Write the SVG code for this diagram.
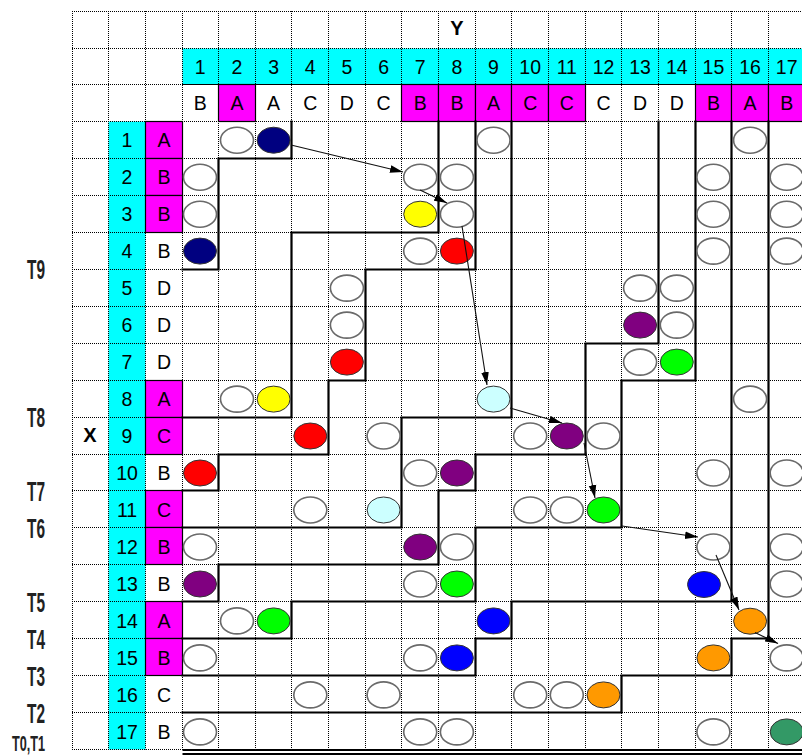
<svg xmlns="http://www.w3.org/2000/svg" width="802" height="756" viewBox="0 0 802 756">
<defs>
<style>
.g{stroke:#000;stroke-width:1;stroke-dasharray:1 1;fill:none}
.b{stroke:#000;stroke-width:2.2;fill:none;stroke-linejoin:miter;stroke-linecap:square}
.m{fill:#FF00FF;stroke:#000;stroke-width:1.2}
.cy{fill:#00FFFF}
.t{font-family:"Liberation Sans",Arial,sans-serif;font-size:19.5px;text-anchor:middle;fill:#000}
.lb{font-family:"Liberation Sans",Arial,sans-serif;font-weight:bold;font-size:20px;text-anchor:middle;fill:#000}
.tl{font-family:"Liberation Sans",Arial,sans-serif;font-weight:bold;font-size:28px;fill:#222}
.w{fill:#fff;stroke:#6a6a6a;stroke-width:1.6}
.c{stroke:#333;stroke-width:1}
.a{stroke:#111;stroke-width:1.1;fill:none;marker-end:url(#ah)}
</style>
<marker id="ah" markerUnits="userSpaceOnUse" markerWidth="14" markerHeight="9" refX="13" refY="4.5" orient="auto">
<path d="M0,0.7 L13,4.5 L0,8.3 z" fill="#000"/>
</marker>
</defs>
<rect width="802" height="756" fill="#fff"/>
<g id="fills">
<rect class="cy" x="182.5" y="48.5" width="620" height="36"/>
<rect class="cy" x="108.5" y="121.5" width="37" height="628"/>
</g>
<g id="grid">
<path class="g" d="M72.5,11V749.5M108.5,11V749.5M145.5,11V749.5M182.5,11V749.5M218.5,11V749.5M255.5,11V749.5M291.5,11V749.5M328.5,11V749.5M365.5,11V749.5M401.5,11V749.5M438.5,11V749.5M475.5,11V749.5M511.5,11V749.5M548.5,11V749.5M585.5,11V749.5M621.5,11V749.5M658.5,11V749.5M695.5,11V749.5M731.5,11V749.5M768.5,11V749.5"/>
<path class="g" d="M72,11.5H802M72,48.5H802M72,84.5H802M72,121.5H802M72,158.5H802M72,195.5H802M72,232.5H802M72,269.5H802M72,306.5H802M72,343.5H802M72,380.5H802M72,417.5H802M72,454.5H802M72,490.5H802M72,527.5H802M72,564.5H802M72,601.5H802M72,638.5H802M72,675.5H802M72,712.5H802M72,749.5H802"/>
</g>
<g id="magenta-cells">
<rect class="m" x="218.5" y="84.5" width="37" height="37"/>
<rect class="m" x="401.5" y="84.5" width="37" height="37"/>
<rect class="m" x="438.5" y="84.5" width="37" height="37"/>
<rect class="m" x="475.5" y="84.5" width="36" height="37"/>
<rect class="m" x="511.5" y="84.5" width="37" height="37"/>
<rect class="m" x="548.5" y="84.5" width="37" height="37"/>
<rect class="m" x="695.5" y="84.5" width="36" height="37"/>
<rect class="m" x="731.5" y="84.5" width="37" height="37"/>
<rect class="m" x="768.5" y="84.5" width="37" height="37"/>
<rect class="m" x="145.5" y="121.5" width="37" height="37"/>
<rect class="m" x="145.5" y="158.5" width="37" height="37"/>
<rect class="m" x="145.5" y="195.5" width="37" height="37"/>
<rect class="m" x="145.5" y="380.5" width="37" height="37"/>
<rect class="m" x="145.5" y="417.5" width="37" height="37"/>
<rect class="m" x="145.5" y="490.5" width="37" height="37"/>
<rect class="m" x="145.5" y="527.5" width="37" height="37"/>
<rect class="m" x="145.5" y="601.5" width="37" height="37"/>
<rect class="m" x="145.5" y="638.5" width="37" height="37"/>
<path d="M182.5,84.5H802" stroke="#000" stroke-width="1.2"/>
</g>
<g id="boundaries">
<path class="b" d="M291.5,121.5V158.5H218.5V269.5H182.5"/>
<path class="b" d="M438.5,121.5V232.5H291.5V417.5H182.5"/>
<path class="b" d="M475.5,121.5V269.5H365.5V380.5H328.5V454.5H218.5V490.5H182.5"/>
<path class="b" d="M511.5,121.5V417.5H401.5V527.5H182.5"/>
<path class="b" d="M658.5,121.5V343.5H585.5V454.5H475.5V490.5H438.5V564.5H218.5V601.5H182.5"/>
<path class="b" d="M695.5,121.5V380.5H621.5V527.5H475.5V601.5H291.5V638.5H182.5"/>
<path class="b" d="M731.5,121.5V601.5H511.5V638.5H475.5V675.5H182.5"/>
<path class="b" d="M768.5,121.5V638.5H731.5V675.5H621.5V712.5H182.5"/>
<path d="M182.5,750H802M182.5,754H802" stroke="#000" stroke-width="2"/>
</g>
<g id="nodes">
<g id="n1-2"><ellipse class="w" cx="237" cy="140.2" rx="16.5" ry="13"/></g>
<g id="n1-3"><ellipse class="c" fill="#000080" cx="273.6" cy="140.2" rx="16.5" ry="13"/></g>
<g id="n1-9"><ellipse class="w" cx="493.5" cy="140.2" rx="16.5" ry="13"/></g>
<g id="n1-16"><ellipse class="w" cx="750.1" cy="140.2" rx="16.5" ry="13"/></g>
<g id="n2-1"><ellipse class="w" cx="200" cy="177.2" rx="16.5" ry="13"/></g>
<g id="n2-7"><ellipse class="w" cx="420.2" cy="177.2" rx="16.5" ry="13"/></g>
<g id="n2-8"><ellipse class="w" cx="456.9" cy="177.2" rx="16.5" ry="13"/></g>
<g id="n2-15"><ellipse class="w" cx="713.4" cy="177.2" rx="16.5" ry="13"/></g>
<g id="n2-17"><ellipse class="w" cx="786.7" cy="177.2" rx="16.5" ry="13"/></g>
<g id="n3-1"><ellipse class="w" cx="200" cy="214.2" rx="16.5" ry="13"/></g>
<g id="n3-7"><ellipse class="c" fill="#FFFF00" cx="420.2" cy="214.2" rx="16.5" ry="13"/></g>
<g id="n3-8"><ellipse class="w" cx="456.9" cy="214.2" rx="16.5" ry="13"/></g>
<g id="n3-15"><ellipse class="w" cx="713.4" cy="214.2" rx="16.5" ry="13"/></g>
<g id="n3-17"><ellipse class="w" cx="786.7" cy="214.2" rx="16.5" ry="13"/></g>
<g id="n4-1"><ellipse class="c" fill="#000080" cx="200" cy="251.1" rx="16.5" ry="13"/></g>
<g id="n4-7"><ellipse class="w" cx="420.2" cy="251.1" rx="16.5" ry="13"/></g>
<g id="n4-8"><ellipse class="c" fill="#FF0000" cx="456.9" cy="251.1" rx="16.5" ry="13"/></g>
<g id="n4-15"><ellipse class="w" cx="713.4" cy="251.1" rx="16.5" ry="13"/></g>
<g id="n4-17"><ellipse class="w" cx="786.7" cy="251.1" rx="16.5" ry="13"/></g>
<g id="n5-5"><ellipse class="w" cx="346.9" cy="288.1" rx="16.5" ry="13"/></g>
<g id="n5-13"><ellipse class="w" cx="640.1" cy="288.1" rx="16.5" ry="13"/></g>
<g id="n5-14"><ellipse class="w" cx="676.8" cy="288.1" rx="16.5" ry="13"/></g>
<g id="n6-5"><ellipse class="w" cx="346.9" cy="325.1" rx="16.5" ry="13"/></g>
<g id="n6-13"><ellipse class="c" fill="#800080" cx="640.1" cy="325.1" rx="16.5" ry="13"/></g>
<g id="n6-14"><ellipse class="w" cx="676.8" cy="325.1" rx="16.5" ry="13"/></g>
<g id="n7-5"><ellipse class="c" fill="#FF0000" cx="346.9" cy="362.1" rx="16.5" ry="13"/></g>
<g id="n7-13"><ellipse class="w" cx="640.1" cy="362.1" rx="16.5" ry="13"/></g>
<g id="n7-14"><ellipse class="c" fill="#00FF00" cx="676.8" cy="362.1" rx="16.5" ry="13"/></g>
<g id="n8-2"><ellipse class="w" cx="237" cy="399.1" rx="16.5" ry="13"/></g>
<g id="n8-3"><ellipse class="c" fill="#FFFF00" cx="273.6" cy="399.1" rx="16.5" ry="13"/></g>
<g id="n8-9"><ellipse class="c" fill="#CCFFFF" stroke="#555" cx="493.5" cy="399.1" rx="16.5" ry="13"/></g>
<g id="n8-16"><ellipse class="w" cx="750.1" cy="399.1" rx="16.5" ry="13"/></g>
<g id="n9-4"><ellipse class="c" fill="#FF0000" cx="310.3" cy="436" rx="16.5" ry="13"/></g>
<g id="n9-6"><ellipse class="w" cx="383.6" cy="436" rx="16.5" ry="13"/></g>
<g id="n9-10"><ellipse class="w" cx="530.2" cy="436" rx="16.5" ry="13"/></g>
<g id="n9-11"><ellipse class="c" fill="#800080" cx="566.8" cy="436" rx="16.5" ry="13"/></g>
<g id="n9-12"><ellipse class="w" cx="603.5" cy="436" rx="16.5" ry="13"/></g>
<g id="n10-1"><ellipse class="c" fill="#FF0000" cx="200" cy="473" rx="16.5" ry="13"/></g>
<g id="n10-7"><ellipse class="w" cx="420.2" cy="473" rx="16.5" ry="13"/></g>
<g id="n10-8"><ellipse class="c" fill="#800080" cx="456.9" cy="473" rx="16.5" ry="13"/></g>
<g id="n10-15"><ellipse class="w" cx="713.4" cy="473" rx="16.5" ry="13"/></g>
<g id="n10-17"><ellipse class="w" cx="786.7" cy="473" rx="16.5" ry="13"/></g>
<g id="n11-4"><ellipse class="w" cx="310.3" cy="510" rx="16.5" ry="13"/></g>
<g id="n11-6"><ellipse class="c" fill="#CCFFFF" stroke="#555" cx="383.6" cy="510" rx="16.5" ry="13"/></g>
<g id="n11-10"><ellipse class="w" cx="530.2" cy="510" rx="16.5" ry="13"/></g>
<g id="n11-11"><ellipse class="w" cx="566.8" cy="510" rx="16.5" ry="13"/></g>
<g id="n11-12"><ellipse class="c" fill="#00FF00" cx="603.5" cy="510" rx="16.5" ry="13"/></g>
<g id="n12-1"><ellipse class="w" cx="200" cy="547" rx="16.5" ry="13"/></g>
<g id="n12-7"><ellipse class="c" fill="#800080" cx="420.2" cy="547" rx="16.5" ry="13"/></g>
<g id="n12-8"><ellipse class="w" cx="456.9" cy="547" rx="16.5" ry="13"/></g>
<g id="n12-15"><ellipse class="w" cx="713.4" cy="547" rx="16.5" ry="13"/></g>
<g id="n12-17"><ellipse class="w" cx="786.7" cy="547" rx="16.5" ry="13"/></g>
<g id="n13-1"><ellipse class="c" fill="#800080" cx="200" cy="584" rx="16.5" ry="13"/></g>
<g id="n13-7"><ellipse class="w" cx="420.2" cy="584" rx="16.5" ry="13"/></g>
<g id="n13-8"><ellipse class="c" fill="#00FF00" cx="456.9" cy="584" rx="16.5" ry="13"/></g>
<g id="n13-15"><ellipse class="c" fill="#0000FF" cx="704" cy="584.5" rx="16.5" ry="13"/></g>
<g id="n13-17"><ellipse class="w" cx="786.7" cy="584" rx="16.5" ry="13"/></g>
<g id="n14-2"><ellipse class="w" cx="237" cy="620.9" rx="16.5" ry="13"/></g>
<g id="n14-3"><ellipse class="c" fill="#00FF00" cx="273.6" cy="620.9" rx="16.5" ry="13"/></g>
<g id="n14-9"><ellipse class="c" fill="#0000FF" cx="493.5" cy="620.9" rx="16.5" ry="13"/></g>
<g id="n14-16"><ellipse class="c" fill="#FF9900" cx="750.1" cy="621.2" rx="16.5" ry="13"/></g>
<g id="n15-1"><ellipse class="w" cx="200" cy="657.9" rx="16.5" ry="13"/></g>
<g id="n15-7"><ellipse class="w" cx="420.2" cy="657.9" rx="16.5" ry="13"/></g>
<g id="n15-8"><ellipse class="c" fill="#0000FF" cx="456.9" cy="657.9" rx="16.5" ry="13"/></g>
<g id="n15-15"><ellipse class="c" fill="#FF9900" cx="713.4" cy="657.9" rx="16.5" ry="13"/></g>
<g id="n15-17"><ellipse class="w" cx="786.7" cy="657.9" rx="16.5" ry="13"/></g>
<g id="n16-4"><ellipse class="w" cx="310.3" cy="694.9" rx="16.5" ry="13"/></g>
<g id="n16-6"><ellipse class="w" cx="383.6" cy="694.9" rx="16.5" ry="13"/></g>
<g id="n16-10"><ellipse class="w" cx="530.2" cy="694.9" rx="16.5" ry="13"/></g>
<g id="n16-11"><ellipse class="w" cx="566.8" cy="694.9" rx="16.5" ry="13"/></g>
<g id="n16-12"><ellipse class="c" fill="#FF9900" cx="603.5" cy="694.9" rx="16.5" ry="13"/></g>
<g id="n17-1"><ellipse class="w" cx="200" cy="731.9" rx="16.5" ry="13"/></g>
<g id="n17-7"><ellipse class="w" cx="420.2" cy="731.9" rx="16.5" ry="13"/></g>
<g id="n17-8"><ellipse class="w" cx="456.9" cy="731.9" rx="16.5" ry="13"/></g>
<g id="n17-15"><ellipse class="w" cx="713.4" cy="731.9" rx="16.5" ry="13"/></g>
<g id="n17-17"><ellipse class="c" fill="#339966" cx="786.7" cy="731.9" rx="16.5" ry="13"/></g>
</g>
<g id="connectors">
<line class="a" x1="291" y1="145" x2="403" y2="172"/>
<line class="a" x1="420" y1="190" x2="447" y2="203"/>
<line class="a" x1="462" y1="226" x2="487" y2="385"/>
<line class="a" x1="510" y1="408" x2="562" y2="423"/>
<line class="a" x1="584" y1="443" x2="595" y2="498"/>
<line class="a" x1="622" y1="526" x2="698" y2="537"/>
<line class="a" x1="716" y1="555" x2="739" y2="610"/>
<line class="a" x1="755" y1="632.5" x2="778" y2="643.5"/>
</g>
<g id="labels">
<text class="lb" x="457" y="35">Y</text>
<text class="lb" x="90" y="441.5">X</text>
<g class="t">
<text x="200.3" y="74">1</text><text x="237" y="74">2</text><text x="273.6" y="74">3</text><text x="310.3" y="74">4</text><text x="346.9" y="74">5</text><text x="383.6" y="74">6</text><text x="420.2" y="74">7</text><text x="456.9" y="74">8</text><text x="493.5" y="74">9</text><text x="530.2" y="74">10</text><text x="566.8" y="74">11</text><text x="603.5" y="74">12</text><text x="640.1" y="74">13</text><text x="676.8" y="74">14</text><text x="713.4" y="74">15</text><text x="750.1" y="74">16</text><text x="786.7" y="74">17</text>
<text x="200.3" y="110">B</text><text x="237" y="110">A</text><text x="273.6" y="110">A</text><text x="310.3" y="110">C</text><text x="346.9" y="110">D</text><text x="383.6" y="110">C</text><text x="420.2" y="110">B</text><text x="456.9" y="110">B</text><text x="493.5" y="110">A</text><text x="530.2" y="110">C</text><text x="566.8" y="110">C</text><text x="603.5" y="110">C</text><text x="640.1" y="110">D</text><text x="676.8" y="110">D</text><text x="713.4" y="110">B</text><text x="750.1" y="110">A</text><text x="786.7" y="110">B</text>
<text x="127" y="147">1</text><text x="164" y="147">A</text>
<text x="127" y="184">2</text><text x="164" y="184">B</text>
<text x="127" y="221">3</text><text x="164" y="221">B</text>
<text x="127" y="258">4</text><text x="164" y="258">B</text>
<text x="127" y="295">5</text><text x="164" y="295">D</text>
<text x="127" y="332">6</text><text x="164" y="332">D</text>
<text x="127" y="369">7</text><text x="164" y="369">D</text>
<text x="127" y="406">8</text><text x="164" y="406">A</text>
<text x="127" y="443">9</text><text x="164" y="443">C</text>
<text x="127" y="480">10</text><text x="164" y="480">B</text>
<text x="127" y="517">11</text><text x="164" y="517">C</text>
<text x="127" y="554">12</text><text x="164" y="554">B</text>
<text x="127" y="591">13</text><text x="164" y="591">B</text>
<text x="127" y="628">14</text><text x="164" y="628">A</text>
<text x="127" y="665">15</text><text x="164" y="665">B</text>
<text x="127" y="702">16</text><text x="164" y="702">C</text>
<text x="127" y="739">17</text><text x="164" y="739">B</text>
</g>
<g class="tl">
<text x="27" y="278.5" textLength="18" lengthAdjust="spacingAndGlyphs">T9</text>
<text x="27" y="427" textLength="18" lengthAdjust="spacingAndGlyphs">T8</text>
<text x="27" y="500.5" textLength="18" lengthAdjust="spacingAndGlyphs">T7</text>
<text x="27" y="538" textLength="18" lengthAdjust="spacingAndGlyphs">T6</text>
<text x="27" y="611.5" textLength="18" lengthAdjust="spacingAndGlyphs">T5</text>
<text x="27" y="648.5" textLength="18" lengthAdjust="spacingAndGlyphs">T4</text>
<text x="27" y="685.5" textLength="18" lengthAdjust="spacingAndGlyphs">T3</text>
<text x="27" y="723" textLength="18" lengthAdjust="spacingAndGlyphs">T2</text>
<text x="12" y="751" font-size="22" textLength="33" lengthAdjust="spacingAndGlyphs">T0,T1</text>
</g>
</g>
</svg>
